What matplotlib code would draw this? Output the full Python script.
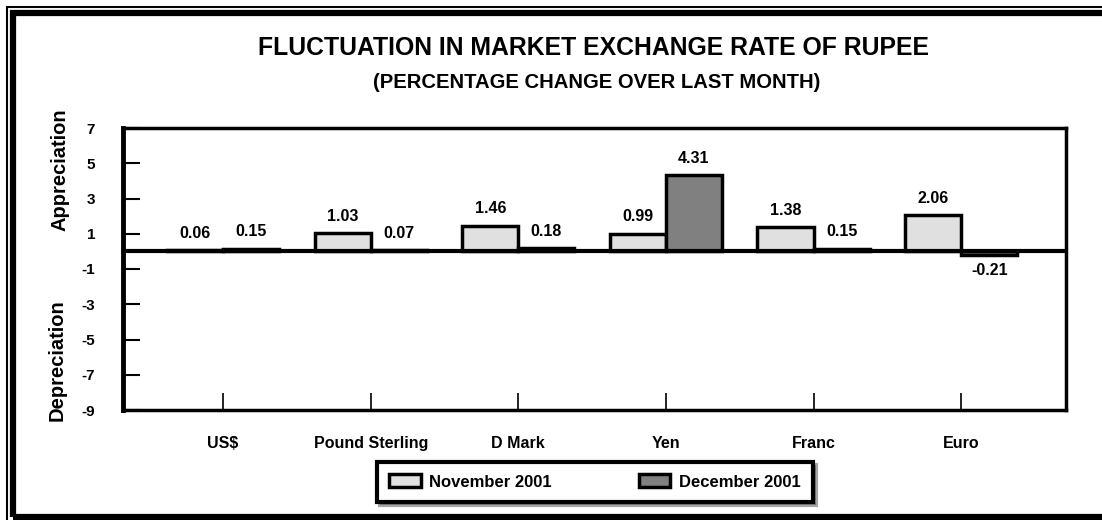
import matplotlib
matplotlib.use('Agg')
import matplotlib.pyplot as plt
import numpy as np
from matplotlib.patches import Rectangle

plt.rcParams['font.family'] = ['Liberation Sans', 'DejaVu Sans']
plt.rcParams['font.weight'] = 'bold'

currencies = ['US$', 'Pound Sterling', 'D Mark', 'Yen', 'Franc', 'Euro']
nov_2001 = [0.06, 1.03, 1.46, 0.99, 1.38, 2.06]
dec_2001 = [0.15, 0.07, 0.18, 4.31, 0.15, -0.21]
y_ticks = [7, 5, 3, 1, -1, -3, -5, -7, -9]

fig = plt.figure(figsize=(11.02, 5.2), dpi=100)
ax = fig.add_axes([123/1102, 1 - 410/520, (1066 - 123)/1102, (410 - 128)/520])

x = np.arange(len(currencies))
w = 0.38
b1 = ax.bar(x - w/2, nov_2001, w, color='#e0e0e0', edgecolor='black', linewidth=2.5,
            label='November 2001')
b2 = ax.bar(x + w/2, dec_2001, w, color='#808080', edgecolor='black', linewidth=2.5,
            label='December 2001')

for bars, vals in [(b1, nov_2001), (b2, dec_2001)]:
    for rect, v in zip(bars, vals):
        cx = rect.get_x() + rect.get_width()/2
        off = 17 if v >= 0 else -15
        ax.annotate('%.2f' % v, (cx, v), xytext=(0, off), textcoords='offset pixels',
                    ha='center', va='center', fontsize=11.5, fontweight='bold')

ax.axhline(0, color='black', linewidth=3)
ax.set_ylim(-9, 7)
ax.set_xlim(-0.678, 5.71)
ax.set_yticks(y_ticks)
ax.set_yticklabels([str(t) for t in y_ticks], fontsize=11, fontweight='bold')
ax.set_xticks(x)
ax.set_xticklabels(currencies, fontsize=11.5, fontweight='bold')
ax.tick_params(axis='y', direction='in', length=12, width=1.5, pad=20)
ax.tick_params(axis='x', direction='in', length=12, width=1.2, pad=19)
for s in ax.spines.values():
    s.set_linewidth(2.5)
ax.spines['left'].set_linewidth(3.5)

fig.text(593/1102, 1 - 48/520, 'FLUCTUATION IN MARKET EXCHANGE RATE OF RUPEE',
         ha='center', va='center', fontsize=17.8, fontweight='bold')
fig.text(597/1102, 1 - 83/520, '(PERCENTAGE CHANGE OVER LAST MONTH)',
         ha='center', va='center', fontsize=14.6, fontweight='bold')
fig.text(60/1102, 1 - 170/520, 'Appreciation', rotation=90, ha='center', va='center',
         fontsize=14.5, fontweight='bold')
fig.text(57/1102, 1 - 360/520, 'Depreciation', rotation=90, ha='center', va='center',
         fontsize=14.5, fontweight='bold')

leg = fig.legend(handles=[b1, b2], loc='center', ncol=2,
                 bbox_to_anchor=(595/1102, 1 - 482/520), frameon=True, fancybox=False,
                 shadow=True, handlelength=1.9, handleheight=0.8, handletextpad=0.5,
                 columnspacing=5.2, prop={'weight': 'bold', 'size': 12}, borderpad=0.75)
leg.get_frame().set_edgecolor('black')
leg.get_frame().set_linewidth(3)

# outer double border
fig.add_artist(Rectangle((7/1102, -0.1), 1.2, (520 - 7)/520 + 0.1, transform=fig.transFigure,
                         fill=False, edgecolor='black', linewidth=1.5))
fig.add_artist(Rectangle((13/1102, 3/520), 1.2, (520 - 13 - 3)/520, transform=fig.transFigure,
                         fill=False, edgecolor='black', linewidth=4.5))

fig.savefig('out.png', dpi=100)
